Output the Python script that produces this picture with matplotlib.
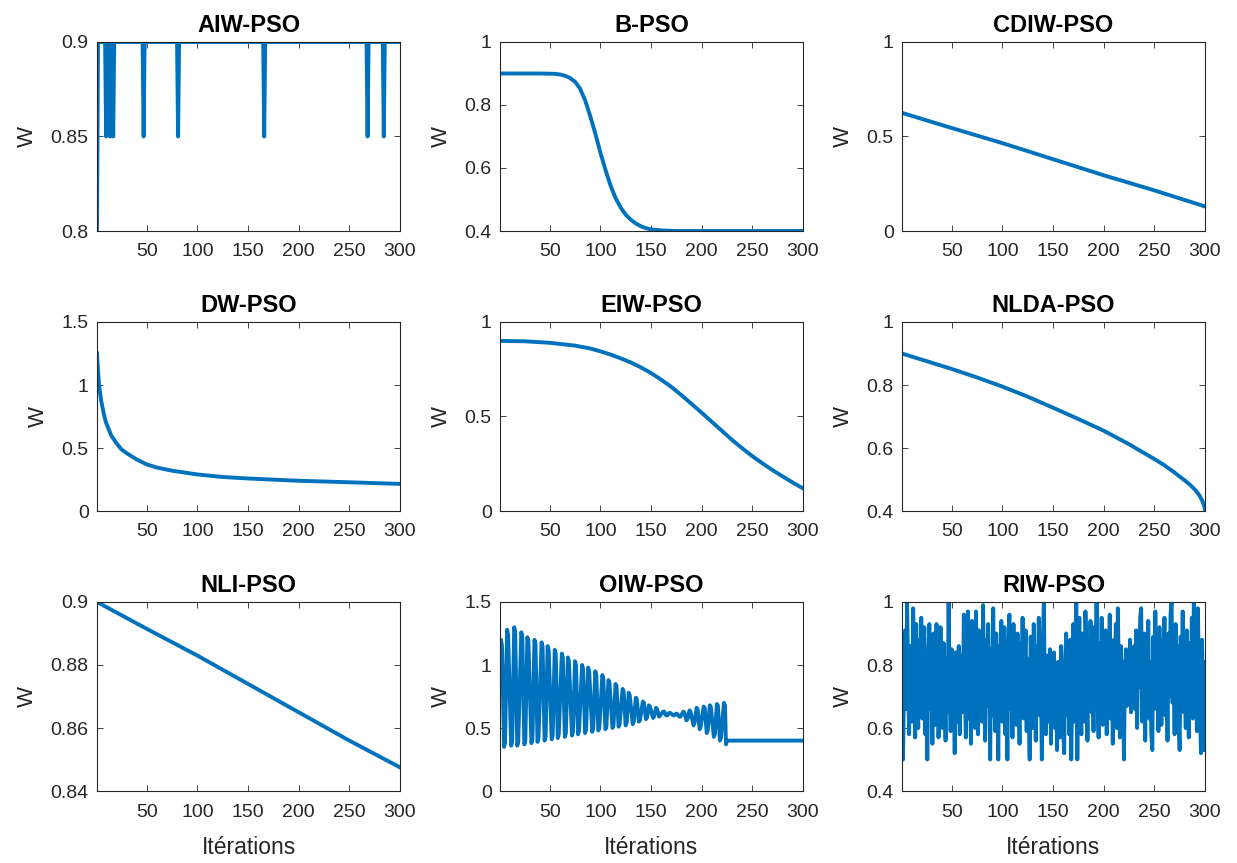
import numpy as np
import matplotlib
import matplotlib.pyplot as plt
from matplotlib import ticker

matplotlib.use('agg')

plt.rcParams['font.family'] = ['Liberation Sans', 'DejaVu Sans']

# AIW-PSO : 0.9 avec des creux à 0.85
aiw_iter = [1, 2, 9, 10, 11, 13, 14, 15, 16, 17, 18, 46, 47, 48, 80, 81, 82,
            165, 166, 167, 267, 268, 269, 283, 284, 285, 300]
aiw_w = [0.8, 0.9, 0.9, 0.85, 0.9, 0.9, 0.85, 0.9, 0.9, 0.85, 0.9, 0.9, 0.85, 0.9,
         0.9, 0.85, 0.9, 0.9, 0.85, 0.9, 0.9, 0.85, 0.9, 0.9, 0.85, 0.9, 0.9]

# B-PSO
b_iter = [1, 40, 55, 60, 65, 70, 75, 80, 85, 90, 95, 100, 105, 110, 115, 120, 125,
          130, 135, 140, 145, 150, 160, 175, 200, 300]
b_w = [0.9, 0.9, 0.899, 0.897, 0.893, 0.886, 0.874, 0.852, 0.815, 0.765, 0.71,
       0.65, 0.595, 0.545, 0.505, 0.475, 0.452, 0.436, 0.424, 0.415, 0.409, 0.405,
       0.402, 0.4, 0.4, 0.4]

# CDIW-PSO
cdiw_iter = [1, 50, 100, 150, 200, 250, 300]
cdiw_w = [0.625, 0.545, 0.465, 0.38, 0.295, 0.215, 0.13]

# DW-PSO
dw_iter = [1, 2, 3, 5, 8, 10, 15, 20, 25, 30, 40, 50, 60, 75, 100, 125, 150, 200, 250, 300]
dw_w = [1.25, 1.12, 1.0, 0.88, 0.76, 0.70, 0.60, 0.54, 0.49, 0.46, 0.41, 0.37,
        0.345, 0.32, 0.29, 0.27, 0.258, 0.24, 0.228, 0.215]

# EIW-PSO
eiw_iter = [1, 25, 50, 75, 90, 100, 110, 120, 130, 140, 150, 160, 170, 180, 190,
            200, 210, 220, 230, 240, 250, 260, 270, 280, 290, 300]
eiw_w = [0.9, 0.898, 0.89, 0.875, 0.86, 0.845, 0.828, 0.808, 0.786, 0.76, 0.73,
         0.695, 0.657, 0.613, 0.567, 0.52, 0.472, 0.424, 0.376, 0.332, 0.29, 0.252,
         0.216, 0.183, 0.15, 0.12]

# NLDA-PSO
nlda_iter = [1, 25, 50, 75, 100, 125, 150, 175, 200, 225, 250, 260, 270, 280, 285,
             290, 294, 297, 299, 300]
nlda_w = [0.9, 0.876, 0.851, 0.824, 0.795, 0.763, 0.728, 0.692, 0.655, 0.612, 0.565,
          0.545, 0.522, 0.497, 0.484, 0.468, 0.452, 0.435, 0.418, 0.405]

# NLI-PSO
nli_iter = [1, 50, 100, 150, 200, 250, 300]
nli_w = [0.9, 0.8915, 0.883, 0.874, 0.865, 0.856, 0.8475]

# OIW-PSO : sommets (2 itérations chacun), creux, puis palier à 0.4
oiw_peak_iter = [2, 3, 8, 9, 15, 16, 22, 23, 28, 29, 35, 36, 42, 43, 48, 49, 55, 56,
                 62, 63, 68, 69, 75, 76, 82, 83, 88, 89, 95, 96, 102, 103, 108, 109,
                 115, 116, 122, 123, 128, 129, 135, 136, 142, 143, 148, 149, 155, 156,
                 162, 163, 168, 169, 175, 176, 182, 183, 188, 189, 195, 196, 202, 203,
                 208, 209, 215, 216, 222, 223]
oiw_peak_w = [1.20, 1.15, 1.28, 1.24, 1.30, 1.26, 1.26, 1.22, 1.22, 1.19, 1.20, 1.17,
              1.18, 1.15, 1.15, 1.12, 1.12, 1.09, 1.09, 1.06, 1.06, 1.03, 1.03, 1.00,
              1.00, 0.97, 0.98, 0.95, 0.95, 0.92, 0.92, 0.89, 0.88, 0.86, 0.85, 0.83,
              0.81, 0.79, 0.78, 0.76, 0.74, 0.73, 0.71, 0.70, 0.68, 0.67, 0.66, 0.65,
              0.63, 0.63, 0.62, 0.62, 0.615, 0.61, 0.63, 0.62, 0.64, 0.63, 0.66, 0.65,
              0.67, 0.66, 0.68, 0.67, 0.69, 0.68, 0.70, 0.68]
oiw_trough_iter = [5, 6, 12, 13, 18, 19, 25, 26, 32, 33, 38, 39, 45, 46, 52, 53, 58, 59,
                   65, 66, 72, 73, 78, 79, 85, 86, 92, 93, 98, 99, 105, 106, 112, 113,
                   118, 119, 125, 126, 132, 133, 138, 139, 145, 146, 152, 153, 158, 159,
                   165, 166, 172, 173, 178, 179, 185, 186, 192, 193, 198, 199, 205, 206,
                   212, 213, 218, 219, 224]
oiw_trough_w = [0.35, 0.38, 0.36, 0.39, 0.36, 0.39, 0.37, 0.40, 0.38, 0.41, 0.39, 0.42,
                0.40, 0.43, 0.41, 0.44, 0.42, 0.45, 0.43, 0.46, 0.44, 0.47, 0.45, 0.48,
                0.46, 0.49, 0.47, 0.50, 0.48, 0.50, 0.49, 0.51, 0.50, 0.52, 0.51, 0.53,
                0.52, 0.54, 0.53, 0.55, 0.55, 0.56, 0.57, 0.58, 0.58, 0.59, 0.59, 0.60,
                0.60, 0.60, 0.60, 0.60, 0.59, 0.59, 0.56, 0.57, 0.52, 0.54, 0.49, 0.51,
                0.46, 0.48, 0.43, 0.45, 0.40, 0.42, 0.37]
oiw_other_iter = [1, 225, 300]
oiw_other_w = [0.8, 0.4, 0.4]

oiw_pts = sorted(zip(oiw_peak_iter + oiw_trough_iter + oiw_other_iter,
                     oiw_peak_w + oiw_trough_w + oiw_other_w))
oiw_iter = [p[0] for p in oiw_pts]
oiw_w = [p[1] for p in oiw_pts]

# RIW-PSO : une valeur par itération
riw_iter = list(range(1, 301))
riw_w = [0.84, 0.50, 0.72, 0.91, 0.66, 1.00, 0.78, 0.58, 0.86, 0.70, 0.62, 0.98, 0.81, 0.57, 0.93, 0.74, 0.60, 0.88, 0.69, 0.95,
         0.63, 0.79, 0.92, 0.58, 0.71, 0.50, 0.84, 0.93, 0.66, 0.77, 0.55, 0.90, 0.72, 0.61, 0.93, 0.80, 0.57, 0.68, 0.92, 0.74,
         0.60, 0.87, 0.70, 0.56, 0.82, 0.65, 1.00, 0.73, 0.59, 0.85, 0.68, 0.79, 0.52, 0.84, 0.71, 0.62, 0.86, 0.58, 0.76, 0.83,
         0.65, 0.96, 0.72, 0.57, 0.89, 0.97, 0.63, 0.80, 0.55, 0.94, 0.70, 0.86, 0.60, 0.97, 0.75, 0.58, 0.91, 0.68, 0.83, 0.62,
         0.99, 0.74, 0.56, 0.88, 0.67, 0.93, 0.79, 0.50, 0.85, 0.64, 0.98, 0.71, 0.59, 0.90, 0.77, 0.50, 0.86, 0.69, 0.94, 0.62,
         0.81, 0.92, 0.58, 0.75, 0.50, 0.88, 0.96, 0.66, 0.79, 0.57, 0.93, 0.70, 0.84, 0.61, 0.90, 0.73, 0.55, 0.87, 0.68, 0.95,
         0.63, 0.78, 0.91, 0.59, 0.82, 0.67, 0.50, 0.89, 0.74, 0.60, 0.93, 0.80, 0.56, 0.86, 0.71, 0.95, 0.64, 0.77, 0.50, 0.88,
         1.00, 0.69, 0.58, 0.83, 0.73, 0.62, 0.85, 0.55, 0.78, 0.66, 0.84, 0.60, 0.75, 0.53, 0.81, 0.68, 0.57, 0.86, 0.72, 0.61,
         0.52, 0.80, 0.90, 0.64, 0.76, 0.58, 0.88, 0.50, 0.73, 0.93, 0.62, 0.85, 1.00, 0.50, 0.79, 0.95, 0.67, 0.58, 0.90, 0.74,
         0.62, 0.97, 0.83, 0.56, 0.88, 0.70, 0.94, 0.65, 0.80, 0.59, 0.92, 0.76, 1.00, 0.68, 0.57, 0.87, 0.73, 0.95, 0.61, 0.82,
         0.69, 0.91, 0.58, 0.84, 0.72, 0.96, 0.63, 0.79, 0.55, 0.88, 0.70, 0.93, 0.60, 0.98, 0.75, 0.57, 0.86, 0.66, 0.81, 0.50,
         0.78, 0.85, 0.67, 0.82, 0.72, 0.88, 0.65, 0.80, 0.70, 0.86, 0.66, 0.91, 0.60, 0.84, 0.73, 0.95, 0.98, 0.62, 0.79, 0.90,
         0.56, 0.87, 0.71, 0.94, 0.63, 0.81, 0.58, 0.53, 0.89, 0.75, 0.97, 0.66, 0.84, 0.59, 0.92, 0.72, 0.61, 0.88, 0.77, 0.95,
         0.64, 0.83, 0.56, 0.90, 0.70, 0.96, 1.00, 0.68, 0.80, 0.58, 0.93, 0.74, 0.86, 0.62, 0.53, 0.89, 0.71, 0.97, 0.65, 0.82,
         0.60, 0.91, 0.75, 0.57, 0.87, 0.69, 0.95, 0.63, 1.00, 0.72, 0.84, 0.59, 0.98, 0.76, 0.66, 0.52, 0.88, 0.70, 0.81, 0.53]

panels = [
    ('AIW-PSO', aiw_iter, aiw_w, (0.8, 0.9), [0.8, 0.85, 0.9]),
    ('B-PSO', b_iter, b_w, (0.4, 1), [0.4, 0.6, 0.8, 1]),
    ('CDIW-PSO', cdiw_iter, cdiw_w, (0, 1), [0, 0.5, 1]),
    ('DW-PSO', dw_iter, dw_w, (0, 1.5), [0, 0.5, 1, 1.5]),
    ('EIW-PSO', eiw_iter, eiw_w, (0, 1), [0, 0.5, 1]),
    ('NLDA-PSO', nlda_iter, nlda_w, (0.4, 1), [0.4, 0.6, 0.8, 1]),
    ('NLI-PSO', nli_iter, nli_w, (0.84, 0.9), [0.84, 0.86, 0.88, 0.9]),
    ('OIW-PSO', oiw_iter, oiw_w, (0, 1.5), [0, 0.5, 1, 1.5]),
    ('RIW-PSO', riw_iter, riw_w, (0.4, 1), [0.4, 0.6, 0.8, 1]),
]

W, H = 1237, 863
lefts = [97, 500, 902]
tops = [42, 322, 602]
aw, ah = 303, 189
gris = '#262626'

fig = plt.figure(figsize=(W / 100, H / 100), dpi=100)

for k, (titre, it, w, ylim, yticks) in enumerate(panels):
    r, c = divmod(k, 3)
    ax = fig.add_axes([lefts[c] / W, 1 - (tops[r] + ah) / H, aw / W, ah / H])
    ax.plot(it, w, color='#0072BD', lw=2.8)
    ax.set_xlim(1, 300)
    ax.set_ylim(*ylim)
    ax.set_xticks([50, 100, 150, 200, 250, 300])
    ax.set_yticks(yticks)
    ax.yaxis.set_major_formatter(ticker.FormatStrFormatter('%g'))
    ax.tick_params(direction='in', top=True, right=True, length=4, width=0.6,
                   labelsize=14, colors=gris)
    ax.tick_params(axis='x', pad=9)
    ax.tick_params(axis='y', pad=6)
    for s in ax.spines.values():
        s.set_color(gris)
        s.set_linewidth(0.8)
    ax.set_title(titre, fontsize=17, fontweight='bold', pad=7)
    ax.set_ylabel('W', fontsize=16, color=gris, labelpad=9)
    if r == 2:
        ax.set_xlabel('Itérations', fontsize=16.5, color=gris, labelpad=11)

plt.savefig('out.png', dpi=100)
